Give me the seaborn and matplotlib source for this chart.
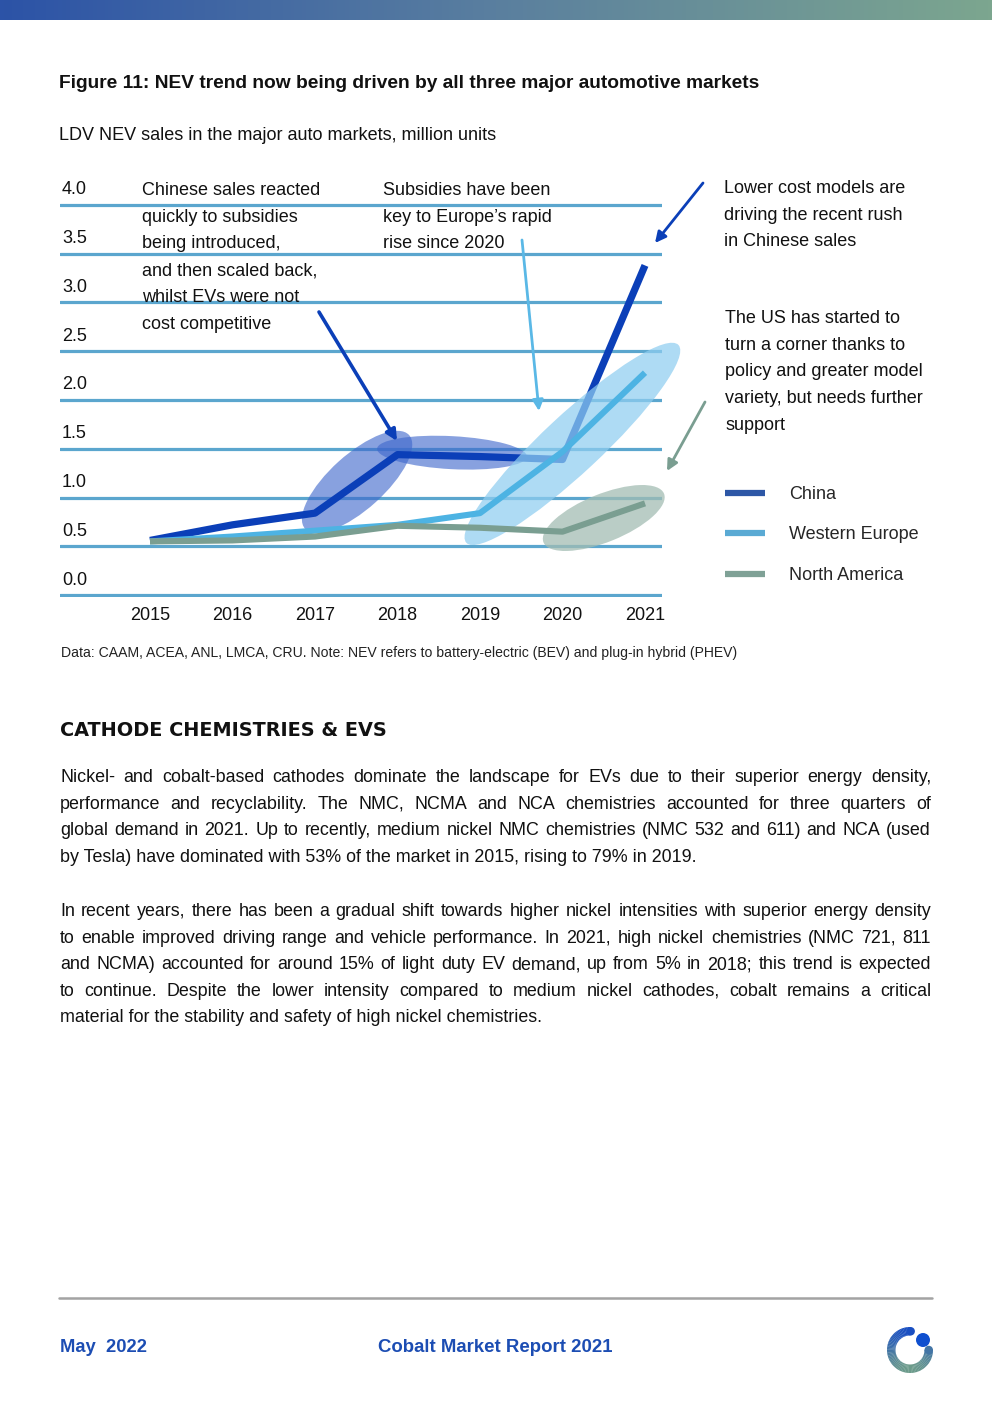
import matplotlib
matplotlib.use('Agg')
import matplotlib.pyplot as plt
import matplotlib.transforms as mtransforms
from matplotlib.patches import Ellipse, Wedge, Circle
from matplotlib.lines import Line2D
from matplotlib.colors import LinearSegmentedColormap, to_rgb
import numpy as np
import pandas as pd
import seaborn as sns

W, H = 992, 1403
FONT = 'Liberation Sans'

# chart data
years = [2015, 2016, 2017, 2018, 2019, 2020, 2021]
china = [0.56, 0.72, 0.84, 1.44, 1.42, 1.39, 3.38]
western_europe = [0.55, 0.60, 0.66, 0.72, 0.84, 1.47, 2.28]
north_america = [0.55, 0.56, 0.60, 0.71, 0.69, 0.65, 0.94]
markets = ['China', 'Western Europe', 'North America']
yticks = [0.0, 0.5, 1.0, 1.5, 2.0, 2.5, 3.0, 3.5, 4.0]

line_colors = {'China': '#0b3fb8', 'Western Europe': '#4db3e3', 'North America': '#7a9e91'}
legend_colors = ['#2d57a6', '#5aaad4', '#7fa196']

para1 = [
    "Nickel- and cobalt-based cathodes dominate the landscape for EVs due to their superior energy density,",
    "performance and recyclability. The NMC, NCMA and NCA chemistries accounted for three quarters of",
    "global demand in 2021. Up to recently, medium nickel NMC chemistries (NMC 532 and 611) and NCA (used",
    "by Tesla) have dominated with 53% of the market in 2015, rising to 79% in 2019.",
]
para2 = [
    "In recent years, there has been a gradual shift towards higher nickel intensities with superior energy density",
    "to enable improved driving range and vehicle performance. In 2021, high nickel chemistries (NMC 721, 811",
    "and NCMA) accounted for around 15% of light duty EV demand, up from 5% in 2018; this trend is expected",
    "to continue. Despite the lower intensity compared to medium nickel cathodes, cobalt remains a critical",
    "material for the stability and safety of high nickel chemistries.",
]


def fx(x):
    return x / W


def fy(y):
    return 1 - y / H


sns.set_theme(style='white')
plt.rcParams['font.family'] = [FONT, 'DejaVu Sans']

fig = plt.figure(figsize=(W / 100, H / 100), dpi=100)

# gradient bar at the top
bar = fig.add_axes([0, fy(20), 1, 20 / H])
grad = LinearSegmentedColormap.from_list('bar', ['#2c53a7', '#5a7f9f', '#7ca68f'])
bar.imshow(np.linspace(0, 1, 256)[None, :], aspect='auto', cmap=grad)
bar.set_axis_off()

# chart
ax = fig.add_axes([fx(60), fy(597), 602 / W, (597 - 203) / H])
df = pd.DataFrame({
    'Year': years * 3,
    'Sales': china + western_europe + north_america,
    'Market': [m for m in markets for _ in years],
})
sns.lineplot(data=df, x='Year', y='Sales', hue='Market', palette=line_colors,
             linewidth=5, legend=False, ax=ax, sort=False)
for ln, lw, z in zip(ax.lines, [5.2, 4.4, 4.4], [2, 4, 5]):
    ln.set_linewidth(lw)
    ln.set_zorder(z)
    ln.set_solid_capstyle('butt')
    ln.set_solid_joinstyle('round')

ax.set_xlim(2013.909, 2021.206)
ax.set_ylim(-0.02, 4.02)
ax.set_xticks(years)
ax.set_xticklabels([str(y) for y in years])
ax.set_yticks(yticks)
ax.set_yticklabels([f'{v:.1f}' for v in yticks])
ax.set_xlabel('')
ax.set_ylabel('')
ax.yaxis.grid(True, color='#5ba6ce', linewidth=2.3)
ax.xaxis.grid(False)
ax.set_axisbelow(True)
sns.despine(ax=ax, left=True, bottom=True)
ax.tick_params(axis='both', length=0, labelsize=13, colors='#111111')
ax.tick_params(axis='x', pad=7)
ax.tick_params(axis='y', pad=0)
for lbl in ax.get_yticklabels():
    lbl.set_ha('left')
    lbl.set_va('center')

# highlight ellipses: centre in data units, size in pixels
highlights = [
    (2017.51, 1.16, 140, 55, 42, '#3f68cc', 0.62, 1),
    (2018.66, 1.46, 150, 33, -3, '#3f68cc', 0.62, 1),
    (2020.12, 1.55, 290, 58, 43, '#8fcdf0', 0.72, 3),
    (2020.50, 0.79, 130, 48, 22, '#a3bdb3', 0.75, 3),
]
for cx, cy, w, h, ang, col, a, z in highlights:
    tr = mtransforms.ScaledTranslation(cx, cy, ax.transData)
    ax.add_patch(Ellipse((0, 0), w, h, angle=ang, facecolor=col, edgecolor='none',
                         alpha=a, transform=tr, zorder=z, clip_on=False))

# annotations
ann_kw = dict(fontsize=13, color='#111111', va='top', ha='left', linespacing=1.75)
fig.text(fx(142), fy(182), "Chinese sales reacted\nquickly to subsidies\nbeing introduced,\n"
         "and then scaled back,\nwhilst EVs were not\ncost competitive", **ann_kw)
fig.text(fx(383), fy(182), "Subsidies have been\nkey to Europe\u2019s rapid\nrise since 2020", **ann_kw)
fig.text(fx(724), fy(180), "Lower cost models are\ndriving the recent rush\nin Chinese sales", **ann_kw)
fig.text(fx(725), fy(310), "The US has started to\nturn a corner thanks to\npolicy and greater model\n"
         "variety, but needs further\nsupport", **ann_kw)

arrows = [
    ((319, 312), (397, 441), '#0b3fb8', 2.6),
    ((522, 240), (539, 411), '#5ab8e6', 2.0),
    ((703, 183), (655, 243), '#0b3fb8', 2.0),
    ((705, 402), (667, 471), '#7a9e91', 2.0),
]
for (x0, y0), (x1, y1), col, lw in arrows:
    ax.annotate('', xy=(x1, H - y1), xytext=(x0, H - y0),
                xycoords='figure pixels', textcoords='figure pixels',
                arrowprops=dict(arrowstyle='-|>', color=col, lw=lw, mutation_scale=16,
                                shrinkA=0, shrinkB=0))

handles = [Line2D([], [], color=c, lw=4.5, solid_capstyle='butt') for c in legend_colors]
fig.legend(handles, markets, loc='upper left', bbox_to_anchor=(fx(725), fy(486)),
           frameon=False, fontsize=13, handlelength=2.2, handletextpad=1.33,
           labelspacing=1.3, borderpad=0, borderaxespad=0)

# titles and notes
fig.text(fx(59), fy(83), "Figure 11: NEV trend now being driven by all three major automotive markets",
         fontsize=13.8, fontweight='bold', color='#111111', va='center')
fig.text(fx(59), fy(136), "LDV NEV sales in the major auto markets, million units",
         fontsize=13, color='#111111', va='center')
fig.text(fx(61), fy(653), "Data: CAAM, ACEA, ANL, LMCA, CRU. Note: NEV refers to battery-electric (BEV) "
         "and plug-in hybrid (PHEV)", fontsize=10.05, color='#222222', va='center')

fig.text(fx(60), fy(731), "CATHODE CHEMISTRIES & EVS", fontsize=13.9, fontweight='bold',
         family='DejaVu Sans', color='#111111', va='center')

# justified body text
renderer = fig.canvas.get_renderer()


def paragraph(lines, y0, pitch, size=12.9, left=60, right=931):
    for i, line in enumerate(lines):
        y = fy(y0 + i * pitch)
        if i == len(lines) - 1:
            fig.text(fx(left), y, line, fontsize=size, color='#111111', va='baseline')
            continue
        words = line.split(' ')
        arts = [fig.text(0, y, w, fontsize=size, color='#111111', va='baseline') for w in words]
        widths = [a.get_window_extent(renderer).width for a in arts]
        gap = (right - left - sum(widths)) / (len(words) - 1)
        x = left
        for a, wd in zip(arts, widths):
            a.set_x(fx(x))
            x += wd + gap


paragraph(para1, 782, 26.7)
paragraph(para2, 916, 26.6)

# footer
fig.add_artist(Line2D([fx(59), fx(932)], [fy(1298), fy(1298)], color='#a3a3a3', lw=1.8))
fig.text(fx(60), fy(1347), "May  2022", fontsize=13.2, fontweight='bold', color='#1c4db3', va='center')
fig.text(fx(495), fy(1347), "Cobalt Market Report 2021", fontsize=13.4, fontweight='bold',
         color='#1c4db3', va='center', ha='center')

# logo
lg = fig.add_axes([fx(880), fy(1380), 60 / W, 60 / H])
lg.set_xlim(-30, 30)
lg.set_ylim(-30, 30)
lg.set_aspect('equal')
lg.set_axis_off()
top_c, bot_c = np.array(to_rgb('#1a4fc2')), np.array(to_rgb('#6c9b8b'))
angles = np.linspace(88, 360, 70)
for a0, a1 in zip(angles[:-1], angles[1:]):
    t = (1 - np.sin(np.radians((a0 + a1) / 2))) / 2
    lg.add_patch(Wedge((0, 0), 23, a0, a1 + 0.6, width=8.5, color=top_c * (1 - t) + bot_c * t, lw=0))
for a in (88, 360):
    t = (1 - np.sin(np.radians(a))) / 2
    lg.add_patch(Circle((18.75 * np.cos(np.radians(a)), 18.75 * np.sin(np.radians(a))), 4.25,
                        color=top_c * (1 - t) + bot_c * t, lw=0))
lg.add_patch(Circle((13, 10), 7, color='#0f4fcf', lw=0))

# lift the y tick labels above their gridlines
off = mtransforms.ScaledTranslation(0.02, 0.15, fig.dpi_scale_trans)
for lbl in ax.get_yticklabels():
    lbl.set_transform(lbl.get_transform() + off)

fig.savefig('out.png', dpi=100)
